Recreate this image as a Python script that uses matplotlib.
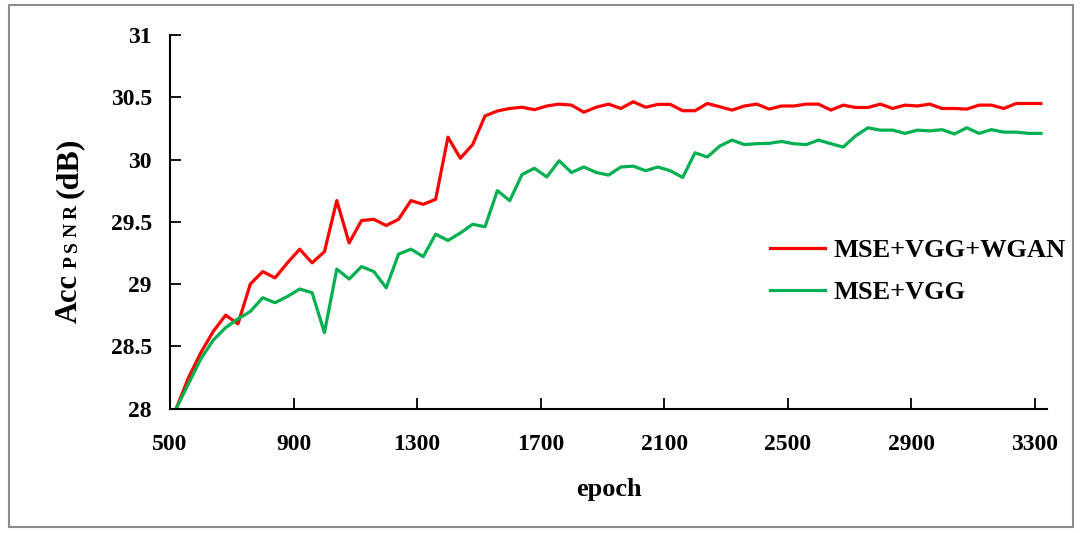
import matplotlib
matplotlib.use("Agg")
import matplotlib.pyplot as plt
import numpy as np
from matplotlib.patches import Rectangle

# epochs: 520, 560, ..., 3320
epochs = np.arange(520, 3321, 40)

# MSE+VGG+WGAN
acc_wgan = [
    28.00, 28.25, 28.45, 28.62, 28.75, 28.68, 29.00, 29.10, 29.05, 29.17,
    29.28, 29.17, 29.26, 29.67, 29.33, 29.51, 29.52, 29.47, 29.52, 29.67,
    29.64, 29.68, 30.18, 30.01, 30.12, 30.35, 30.39, 30.41, 30.42, 30.40,
    30.43, 30.445, 30.437, 30.38, 30.42, 30.445, 30.41, 30.464, 30.42, 30.443,
    30.443, 30.392, 30.392, 30.45, 30.424, 30.397, 30.43, 30.445, 30.405, 30.43,
    30.43, 30.445, 30.445, 30.397, 30.437, 30.418, 30.418, 30.445, 30.41, 30.437,
    30.43, 30.445, 30.41, 30.41, 30.405, 30.437, 30.437, 30.41, 30.45, 30.45,
    30.45,
]

# MSE+VGG
acc_vgg = [
    28.00, 28.20, 28.40, 28.55, 28.65, 28.72, 28.78, 28.89, 28.85, 28.90,
    28.96, 28.93, 28.61, 29.12, 29.04, 29.14, 29.10, 28.97, 29.24, 29.28,
    29.22, 29.40, 29.35, 29.41, 29.48, 29.46, 29.75, 29.67, 29.88, 29.93,
    29.86, 29.99, 29.896, 29.94, 29.896, 29.875, 29.94, 29.947, 29.91, 29.94,
    29.91, 29.856, 30.054, 30.02, 30.108, 30.156, 30.12, 30.127, 30.13, 30.145,
    30.127, 30.12, 30.156, 30.127, 30.10, 30.19, 30.255, 30.236, 30.236, 30.21,
    30.236, 30.23, 30.24, 30.205, 30.255, 30.21, 30.24, 30.22, 30.22, 30.21,
    30.21,
]

xticks = [500, 900, 1300, 1700, 2100, 2500, 2900, 3300]
yticks = [28, 28.5, 29, 29.5, 30, 30.5, 31]
ytick_labels = ["28", "28.5", "29", "29.5", "30", "30.5", "31"]

plt.rcParams["font.family"] = ["Liberation Serif", "DejaVu Serif"]
plt.rcParams["font.weight"] = "bold"

W, H = 1081, 533
fig = plt.figure(figsize=(W / 100, H / 100), dpi=100)
ax = fig.add_axes([0.1573, 0.2335, 0.8113, 0.7008])

ax.plot(epochs, acc_wgan, color="#FF0000", lw=2.3, label="MSE+VGG+WGAN")
ax.plot(epochs, acc_vgg, color="#00B050", lw=2.3, label="MSE+VGG")

ax.set_xlim(500, 3340)
ax.set_ylim(28, 31)
ax.set_xticks(xticks)
ax.set_yticks(yticks)
ax.set_yticklabels(ytick_labels)
ax.tick_params(direction="in", length=8, width=1.3, labelsize=17)
ax.tick_params(axis="y", pad=13)
ax.tick_params(axis="x", pad=18)
for s in ["top", "right"]:
    ax.spines[s].set_visible(False)
for s in ["left", "bottom"]:
    ax.spines[s].set_linewidth(1.5)

ax.set_xlabel("epoch", fontsize=19, fontweight="bold", labelpad=17)

ax.legend(loc="upper left", bbox_to_anchor=(770 / W, 1 - 239 / H),
          bbox_transform=fig.transFigure, frameon=False, borderpad=0,
          borderaxespad=0, fontsize=19, handlelength=2.1, labelspacing=0.69,
          handletextpad=0.3)

# y label: "Acc" + small spaced "PSNR" on the same baseline + "(dB)"
fig.canvas.draw()
r = fig.canvas.get_renderer()
xb = 77 / W
ypos = 1 - 323 / H
pieces = [("Acc", 22, 6), ("P", 14, 4), ("S", 14, 4), ("N", 14, 4),
          ("R", 14, 7), ("(dB)", 23, 0)]
for txt, fs, gap in pieces:
    t = fig.text(xb, ypos, txt, rotation=90, rotation_mode="anchor",
                 ha="left", va="baseline", fontsize=fs, fontweight="bold")
    bb = t.get_window_extent(r)
    ypos = (bb.y1 + gap) / H

fig.patches.append(Rectangle((0.008, 0.012), 0.985, 0.978, transform=fig.transFigure,
                             fill=False, edgecolor="#8c8c8c", lw=1.5))

fig.savefig("out.png", dpi=100)
